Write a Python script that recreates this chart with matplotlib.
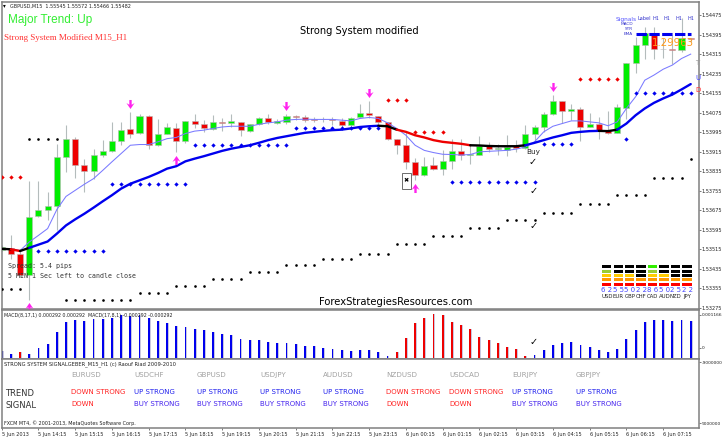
import numpy as np
import matplotlib
matplotlib.use("Agg")
import matplotlib.pyplot as plt
from matplotlib.path import Path
from matplotlib.patches import Rectangle

W, H = 723, 438

# GBPUSD M15 candles
opens = [1.53512, 1.53520, 1.53493, 1.53407, 1.53649, 1.53674, 1.53690, 1.53893, 1.53966, 1.53859,
         1.53834, 1.53899, 1.53918, 1.53959, 1.54008, 1.53992, 1.54062, 1.53944, 1.53989, 1.54012,
         1.53959, 1.54041, 1.54029, 1.54007, 1.54038, 1.54031, 1.54038, 1.54001, 1.54029, 1.54053,
         1.54034, 1.54037, 1.54062, 1.54055, 1.54048, 1.54047, 1.54049, 1.54041, 1.54023, 1.54055,
         1.54075, 1.54063, 1.54036, 1.53967, 1.53941, 1.53874, 1.53819, 1.53859, 1.53844, 1.53878,
         1.53919, 1.53901, 1.53903, 1.53940, 1.53926, 1.53923, 1.53936, 1.53931, 1.53986, 1.54016,
         1.54068, 1.54123, 1.54081, 1.54090, 1.54016, 1.54027, 1.54000, 1.53993, 1.54094, 1.54279,
         1.54351, 1.54393, 1.54337, 1.54336, 1.54330, 1.54382]
highs = [1.53530, 1.53571, 1.53507, 1.53793, 1.53793, 1.53749, 1.53945, 1.54023, 1.53975, 1.53886,
         1.53927, 1.53964, 1.54037, 1.54037, 1.54078, 1.54071, 1.54064, 1.54048, 1.54033, 1.54033,
         1.54042, 1.54071, 1.54044, 1.54064, 1.54053, 1.54071, 1.54038, 1.54027, 1.54057, 1.54068,
         1.54047, 1.54071, 1.54064, 1.54064, 1.54057, 1.54055, 1.54057, 1.54051, 1.54057, 1.54112,
         1.54122, 1.54063, 1.54037, 1.53967, 1.53996, 1.53890, 1.53893, 1.53893, 1.53920, 1.53968,
         1.53968, 1.53948, 1.53981, 1.53955, 1.53948, 1.53982, 1.53962, 1.54023, 1.54023, 1.54078,
         1.54147, 1.54123, 1.54110, 1.54099, 1.54074, 1.54055, 1.54081, 1.54110, 1.54279, 1.54386,
         1.54427, 1.54427, 1.54382, 1.54393, 1.54462, 1.54382]
lows = [1.53507, 1.53475, 1.53400, 1.53304, 1.53646, 1.53635, 1.53592, 1.53831, 1.53807, 1.53749,
        1.53804, 1.53893, 1.53914, 1.53941, 1.53971, 1.53989, 1.53925, 1.53938, 1.53986, 1.53914,
        1.53952, 1.54010, 1.53996, 1.54003, 1.54000, 1.54016, 1.53978, 1.53996, 1.54023, 1.54030,
        1.54027, 1.54030, 1.54044, 1.54037, 1.54037, 1.54037, 1.54023, 1.54016, 1.54010, 1.54051,
        1.54051, 1.54027, 1.53962, 1.53907, 1.53842, 1.53797, 1.53816, 1.53838, 1.53820, 1.53845,
        1.53879, 1.53866, 1.53900, 1.53914, 1.53900, 1.53897, 1.53914, 1.53927, 1.53955, 1.53996,
        1.54064, 1.54033, 1.54044, 1.53957, 1.54014, 1.53968, 1.53986, 1.53992, 1.54047, 1.54236,
        1.54297, 1.54293, 1.54300, 1.54274, 1.54325, 1.54366]
closes = [1.53523, 1.53493, 1.53407, 1.53646, 1.53674, 1.53690, 1.53893, 1.53966, 1.53859, 1.53836,
          1.53903, 1.53916, 1.53959, 1.54005, 1.53989, 1.54060, 1.53940, 1.53989, 1.54014, 1.53959,
          1.54042, 1.54029, 1.54011, 1.54036, 1.54031, 1.54042, 1.54003, 1.54027, 1.54053, 1.54038,
          1.54041, 1.54060, 1.54056, 1.54045, 1.54045, 1.54049, 1.54045, 1.54023, 1.54051, 1.54075,
          1.54064, 1.54037, 1.53968, 1.53942, 1.53874, 1.53819, 1.53856, 1.53845, 1.53878, 1.53918,
          1.53900, 1.53907, 1.53937, 1.53925, 1.53929, 1.53933, 1.53930, 1.53986, 1.54014, 1.54068,
          1.54123, 1.54081, 1.54090, 1.54016, 1.54029, 1.54004, 1.53992, 1.54100, 1.54279, 1.54351,
          1.54400, 1.54334, 1.54334, 1.54331, 1.54382, 1.54378]

fast_ma = [1.53516, 1.53516, 1.53509, 1.53544, 1.53571, 1.53599, 1.53677, 1.53731, 1.53756, 1.53781,
           1.53804, 1.53838, 1.53873, 1.53907, 1.53941, 1.53944, 1.53944, 1.53955, 1.53968, 1.53973,
           1.53989, 1.53999, 1.54003, 1.54010, 1.54016, 1.54019, 1.54019, 1.54019, 1.54027, 1.54033,
           1.54037, 1.54044, 1.54047, 1.54048, 1.54047, 1.54047, 1.54047, 1.54044, 1.54041, 1.54051,
           1.54055, 1.54051, 1.54033, 1.54010, 1.53982, 1.53941, 1.53920, 1.53911, 1.53904, 1.53903,
           1.53901, 1.53903, 1.53914, 1.53916, 1.53918, 1.53920, 1.53925, 1.53934, 1.53955, 1.53996,
           1.54019, 1.54030, 1.54041, 1.54041, 1.54037, 1.54033, 1.54021, 1.54037, 1.54092, 1.54140,
           1.54208, 1.54229, 1.54253, 1.54270, 1.54297, 1.54315]
slow_ma = [1.53516, 1.53514, 1.53507, 1.53520, 1.53533, 1.53546, 1.53578, 1.53612, 1.53637, 1.53660,
           1.53685, 1.53711, 1.53736, 1.53763, 1.53783, 1.53797, 1.53811, 1.53827, 1.53845, 1.53855,
           1.53875, 1.53886, 1.53896, 1.53907, 1.53918, 1.53927, 1.53934, 1.53941, 1.53951, 1.53962,
           1.53971, 1.53978, 1.53985, 1.53992, 1.53996, 1.54000, 1.54003, 1.54005, 1.54010, 1.54016,
           1.54019, 1.54021, 1.54019, 1.54005, 1.53996, 1.53982, 1.53973, 1.53962, 1.53955, 1.53951,
           1.53947, 1.53941, 1.53940, 1.53938, 1.53937, 1.53937, 1.53937, 1.53941, 1.53951, 1.53962,
           1.53973, 1.53982, 1.53992, 1.53996, 1.53999, 1.54000, 1.53999, 1.54005, 1.54030, 1.54064,
           1.54092, 1.54115, 1.54133, 1.54149, 1.54170, 1.54192]
slow_ma_runs = [(0, 1, "black"), (1, 2, "red"), (2, 3, "black"), (3, 41, "blue"), (41, 43, "black"),
                (43, 51, "red"), (51, 57, "black"), (57, 65, "blue"), (65, 67, "black"), (67, 75, "blue")]

# stop dots: first bar, last bar, price
black_dots = [(0, 2, 1.53349), (3, 6, 1.53968), (7, 14, 1.53304), (15, 18, 1.53336), (19, 22, 1.53363),
              (23, 26, 1.53392), (27, 30, 1.53420), (31, 34, 1.53448), (35, 38, 1.53473), (39, 42, 1.53496),
              (43, 46, 1.53534), (47, 50, 1.53570), (51, 54, 1.53603), (55, 58, 1.53633), (59, 62, 1.53664),
              (63, 66, 1.53701), (67, 70, 1.53737), (71, 74, 1.53807), (75, 75, 1.53885)]
red_dots = [(0, 2, 1.53811), (42, 44, 1.54126), (45, 48, 1.53996), (63, 67, 1.54212)]
blue_dots = [(4, 11, 1.53505), (12, 20, 1.53782), (21, 31, 1.53942), (32, 41, 1.54011), (49, 58, 1.53789),
             (59, 62, 1.53948), (68, 68, 1.53966), (69, 75, 1.54156)]

arrows_down = [(14, 1.54110), (31, 1.54103), (40, 1.54156), (60, 1.54181)]
arrows_up = [(3, 1.53277), (19, 1.53882), (45, 1.53767)]

macd = np.array([179, 99, 170, 117, 260, 377, 700, 978, 1014, 996, 1041, 1049, 1085, 1157, 1139, 1175,
                 1076, 996, 942, 852, 843, 789, 745, 700, 655, 619, 520, 493, 475, 440, 413, 404, 377,
                 332, 314, 278, 242, 206, 179, 206, 206, 161, 45, 170, 538, 942, 1085, 1193, 1157, 969,
                 879, 789, 574, 493, 413, 296, 251, 45, 72, 215, 350, 404, 431, 350, 305, 224, 161, 251,
                 520, 762, 978, 1023, 1023, 1005, 1032, 1005]) * 1e-6
macd_red = [2] + list(range(43, 58))

pairs = ["EURUSD", "USDCHF", "GBPUSD", "USDJPY", "AUDUSD", "NZDUSD", "USDCAD", "EURJPY", "GBPJPY"]
trend_row = ["DOWN STRONG", "UP STRONG", "UP STRONG", "UP STRONG", "UP STRONG",
             "DOWN STRONG", "DOWN STRONG", "UP STRONG", "UP STRONG"]
signal_row = ["DOWN", "BUY STRONG", "BUY STRONG", "BUY STRONG", "BUY STRONG",
              "DOWN", "DOWN", "BUY STRONG", "BUY STRONG"]

currencies = ["USD", "EUR", "GBP", "CHF", "CAD", "AUD", "NZD", "JPY"]
strength = ["62", "55", "50", "22", "86", "50", "25", "22"]
meter_lit = [4, 3, 3, 2, 5, 3, 2, 2]
meter_colors = ["#ff0000", "#ff9900", "#ffcc00", "#99cc33", "#33ee00"]

price_ticks = [1.53275, 1.53355, 1.53435, 1.53515, 1.53595, 1.53675, 1.53755, 1.53835,
               1.53915, 1.53995, 1.54075, 1.54155, 1.54235, 1.54315, 1.54395, 1.54475]
time_labels = ["5 Jun 2013", "5 Jun 14:15", "5 Jun 15:15", "5 Jun 16:15", "5 Jun 17:15", "5 Jun 18:15",
               "5 Jun 19:15", "5 Jun 20:15", "5 Jun 21:15", "5 Jun 22:15", "5 Jun 23:15", "6 Jun 00:15",
               "6 Jun 01:15", "6 Jun 02:15", "6 Jun 03:15", "6 Jun 04:15", "6 Jun 05:15", "6 Jun 06:15",
               "6 Jun 07:15"]

fig = plt.figure(figsize=(W / 100, H / 100), dpi=100)
GREY = "#808080"
LEFT, RIGHT = 1.5, 698.7
XLIM = (-0.022, 75.87)


def panel(top, bottom):
    a = fig.add_axes([LEFT / W, 1 - bottom / H, (RIGHT - LEFT) / W, (bottom - top) / H])
    a.set_xlim(*XLIM)
    a.yaxis.tick_right()
    a.tick_params(axis="y", length=1.5, width=0.5, color="#444444", labelsize=3.6, pad=0.8, labelcolor="#222222")
    a.set_xticks([])
    for s in a.spines.values():
        s.set_color(GREY)
        s.set_linewidth(1.1)
    return a


def label(x, y, s, **kw):
    # text placed in picture pixels
    kw.setdefault("va", "center")
    return fig.text(x / W, 1 - y / H, s, **kw)


ax = panel(1.5, 308.5)
ax.set_ylim(1.53271, 1.54531)
ax.set_yticks(price_ticks)
ax.set_yticklabels(["%.5f" % p for p in price_ticks])

n = len(opens)
idx = np.arange(n)
o, h, l, c = map(np.array, (opens, highs, lows, closes))
ax.vlines(idx, l, h, color="#b4bcbc", lw=0.8, zorder=1)
ax.bar(idx, np.abs(c - o), bottom=np.minimum(o, c), width=0.66,
       color=np.where(c >= o, "#00ee00", "#ee0000"), edgecolor="#b8b8b8", linewidth=0.4, zorder=2)

ax.plot(idx, fast_ma, color="#7a7aff", lw=0.75, zorder=3)
for a, b, col in slow_ma_runs:
    col = {"blue": "#0000ee", "red": "#ee0000", "black": "black"}[col]
    ax.plot(idx[a:b + 1], slow_ma[a:b + 1], color=col, lw=1.7, zorder=4, solid_capstyle="round")

for runs, col, mk, ms in ((black_dots, "black", "o", 1.9), (red_dots, "#ee0000", "D", 2.2), (blue_dots, "#0000ee", "D", 2.2)):
    for a, b, p in runs:
        xs = np.arange(a, b + 1)
        ax.plot(xs, [p] * len(xs), ls="none", marker=mk, ms=ms, color=col, mew=0, zorder=5)

down_arrow = Path([(-.13, .5), (.13, .5), (.13, -.03), (.45, .16), (0, -.5), (-.45, .16), (-.13, -.03), (-.13, .5)], closed=True)
up_arrow = Path(down_arrow.vertices * [1, -1], closed=True)
ax.plot(*zip(*arrows_down), ls="none", marker=down_arrow, ms=6.5, color="#ff22ee", mew=0, zorder=6)
ax.plot(*zip(*arrows_up), ls="none", marker=up_arrow, ms=6.5, color="#ff22ee", mew=0, zorder=6)

# signal strip, top right corner
ax.plot([69, 75], [1.54396, 1.54396], color="#0000ee", lw=2.2, ls=(0, (3.4, 0.8)), zorder=6)

# currency meter
meter = fig.add_axes([601 / W, 1 - 286.5 / H, 91.8 / W, 22.5 / H])
meter.set_xlim(-0.5, 7.5)
meter.set_ylim(-0.5, 4.6)
meter.axis("off")
meter.patch.set_alpha(0)
for col_i, lit in enumerate(meter_lit):
    for row in range(5):
        meter.bar(col_i, 0.66, bottom=row - 0.33, width=0.82,
                  color=meter_colors[row] if row < lit else "black")

macd_ax = panel(309.5, 358.5)
macd_ax.set_ylim(-0.000012, 0.00131)
macd_colors = ["#ee0000" if i in macd_red else "#0000ee" for i in idx]
macd_ax.bar(idx + 0.09, macd, width=0.24, color="#c8c8e0", zorder=1)
macd_ax.bar(idx, macd, width=0.2, color=macd_colors, zorder=2)
macd_ax.set_yticks([0.001166, 0.00028])
macd_ax.set_yticklabels(["0.001166", "0"], fontsize=3.2)

sig_ax = panel(358.5, 427.5)
sig_ax.set_ylim(10280000, -10100000)
sig_ax.set_yticks([-9000000, 9000000])
sig_ax.set_yticklabels(["-9000000", "9000000"], fontsize=3.2)
sig_ax.set_xticks(idx[::4])
sig_ax.set_xticklabels(time_labels, ha="left", fontsize=3.6, color="#222222")
sig_ax.tick_params(axis="x", length=1.5, width=0.5, pad=1.5, color="#444444")

# text over the panels
sans = "Liberation Sans"
label(3, 6, "\u25be", fontsize=4, color="black")
label(10, 6, "GBPUSD,M15  1.55545 1.55572 1.55466 1.55482", fontsize=3.5, color="#222222")
label(7.5, 20, "Major Trend: Up", fontsize=8.5, color="#33ee33", family=sans)
label(4, 37.5, "Strong System Modified M15_H1", fontsize=6.5, color="#ff3333", family="Liberation Serif")
label(300, 31, "Strong System modified", fontsize=7.1, color="black")
label(319, 302, "ForexStrategiesResources.com", fontsize=7.2, color="black")
label(8, 266, "Spread: 5.4 pips", fontsize=4.8, family="DejaVu Sans Mono", color="#333333")
label(8, 276, "5 MIN 1 Sec left to candle close", fontsize=4.8, family="DejaVu Sans Mono", color="#333333")
label(4, 315, "MACD(8,17,1) 0.000292 0.000292  MACD(17,8,1) -0.000292 -0.000292", fontsize=3.45, color="#222222")
label(4, 364, "STRONG SYSTEM SIGNALGEBER_M15_H1 (c) Raouf Riad 2009-2010", fontsize=3.7, color="#222222")
label(4, 423.5, "FXCM MT4, \u00a9 2001-2013, MetaQuotes Software Corp.", fontsize=3.5, color="#222222")

label(5, 393.5, "TREND", fontsize=6, color="#333333")
label(5, 405, "SIGNAL", fontsize=6, color="#333333")
col_x = [71, 134, 197, 260, 323, 386, 449, 512, 576]
for x, name, tr, sg in zip(col_x, pairs, trend_row, signal_row):
    label(x, 375, name, fontsize=5.1, color="#a0a0a0")
    label(x, 392.5, tr, fontsize=5.05, color="#ff2222" if tr.startswith("DOWN") else "#2222ee")
    label(x, 404, sg, fontsize=5.05, color="#ff2222" if sg == "DOWN" else "#4422ee")

label(533, 152, "Buy", fontsize=5.2, color="#222222", ha="center")
for x, y in ((533, 162), (534, 190.5), (534, 226), (534, 341.5)):
    label(x, y, "\u2713", fontsize=7, color="black", ha="center", family="DejaVu Sans")
fig.add_artist(Rectangle((401.5 / W, 1 - 189 / H), 9.5 / W, 16 / H, transform=fig.transFigure,
                         facecolor="white", edgecolor="#555555", linewidth=0.6, zorder=7))
label(406, 180.5, "\u2716", fontsize=4.5, color="black", ha="center", zorder=8)

label(616, 19, "Signals", fontsize=4.2, color="#5555ff")
label(637.5, 19, "Label", fontsize=3.6, color="#3333cc")
for x in (652.5, 664, 675.5, 687):
    label(x, 19, "H1", fontsize=3.6, color="#3333cc")
for y, s in ((24, "MACD"), (29, "STR"), (33.7, "EMA")):
    label(633, y, s, fontsize=3.1, color="#3333cc", ha="right")
label(652, 43, "1.29963", fontsize=7.4, color="#ff9a1a", zorder=8)
label(695.5, 63, "T", fontsize=5, color="#999999")
label(695.5, 78, "U", fontsize=5, color="#4444ff")
label(695.5, 89.5, "D", fontsize=5, color="#ff3333")

for i, s in enumerate(strength):
    x = 607 + 11.47 * i
    label(x, 290.5, " ".join(s), fontsize=5, color="#4444ff", ha="center")
    label(x, 296.5, currencies[i], fontsize=3.9, color="#222222", ha="center")

fig.savefig("out.png", dpi=100)
